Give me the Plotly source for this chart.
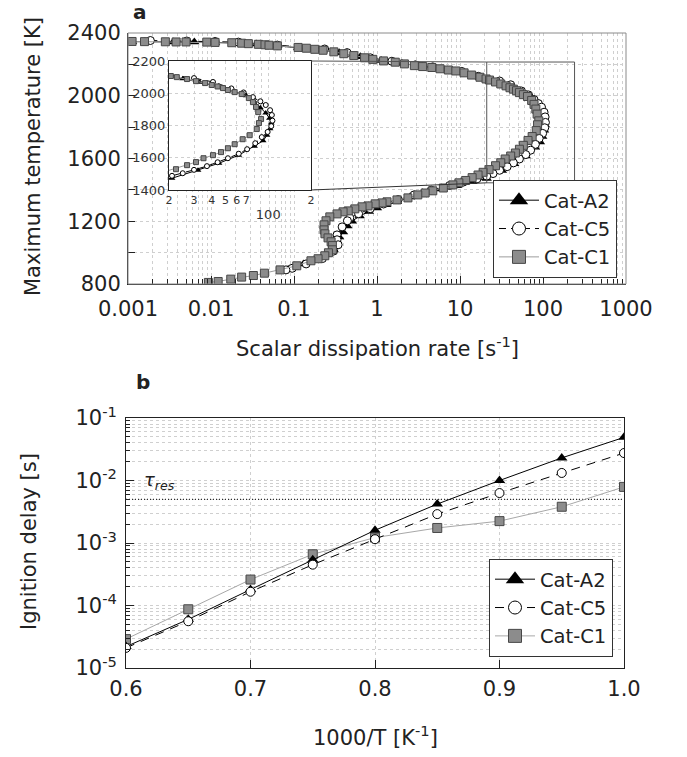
import math
import plotly.graph_objects as go

W, H = 687, 757
FONT = "DejaVu Sans"

# ---------------- Panel a: S-curves (scalar dissipation rate [1/s] vs max temperature [K])
chi_A2 = [0.00112, 0.0016, 0.0035, 0.0063, 0.0112, 0.02, 0.035, 0.063, 0.112, 0.2, 0.35, 0.63,
          1.12, 2.0, 3.5, 6.3, 11.2, 17.8,
          25, 33, 45, 58, 70, 79.6, 88, 96, 102, 105, 103, 98, 92, 80, 62, 45, 32, 21,
          14, 9.2, 6.0, 3.55, 2.5, 1.74, 1.3, 1.0, 0.8, 0.62, 0.5, 0.44, 0.39, 0.35, 0.33,
          0.32, 0.3, 0.25, 0.18, 0.13, 0.1, 0.085, 0.075]
T_A2 = [2345, 2345, 2343, 2342, 2340, 2336, 2330, 2318, 2307, 2293, 2274, 2248,
        2224, 2206, 2187, 2170, 2146, 2116,
        2090, 2068, 2040, 2010, 1985, 1950, 1910, 1877, 1845, 1815, 1780, 1740, 1705, 1672, 1616, 1566, 1523, 1473,
        1452, 1426, 1405, 1381, 1355, 1324, 1305, 1285, 1262, 1234, 1200, 1170, 1132, 1100, 1075,
        1050, 1020, 990, 955, 928, 905, 893, 885]

chi_C5 = [0.00186, 0.0051, 0.0112, 0.0214, 0.063, 0.234, 0.436, 0.83, 1.51, 2.9, 4.7, 10.5, 16.6,
          30, 40.8, 55, 67, 78, 88, 96, 103, 106, 107, 105, 99, 90, 81, 71, 62, 52, 44, 37, 30, 25, 21,
          16, 11, 7.5, 4.5, 2.8, 1.8, 1.2, 0.83, 0.6, 0.47, 0.44, 0.38, 0.33, 0.33, 0.34, 0.3,
          0.22, 0.14, 0.095, 0.08]
T_C5 = [2352, 2349, 2346, 2342, 2323, 2298, 2275, 2242, 2220, 2197, 2184, 2155, 2124,
        2094, 2070, 2030, 2005, 1976, 1950, 1927, 1895, 1865, 1830, 1796, 1760, 1728, 1690, 1653, 1625,
        1597, 1572, 1548, 1525, 1504, 1488,
        1470, 1450, 1428, 1398, 1368, 1338, 1310, 1280, 1248, 1222, 1203, 1164, 1113, 1082, 1050, 1010,
        962, 928, 900, 890]

chi_C1 = [0.00112, 0.00158, 0.00282, 0.0038, 0.0050, 0.0089, 0.0112, 0.0178, 0.0234, 0.0282, 0.0372,
          0.0447, 0.050, 0.063, 0.112, 0.141, 0.178, 0.224, 0.302, 0.398, 0.525, 0.708, 0.891, 1.20,
          1.66, 2.14, 2.82, 3.55, 4.57, 5.75, 7.24, 8.91, 11.2, 13.8, 17.4,
          20.6, 22.7, 26.8, 31.0, 35.9, 40.0, 44, 48, 52, 58, 65, 73, 78, 82, 85, 89, 86, 83, 74, 66,
          58, 52, 46.5, 40.8, 35.0, 31.0, 26.8, 22.4,
          19.0, 16.5, 14.0, 11.7, 9.7, 8.2, 6.3, 4.7, 3.8, 3.1, 2.36, 1.74, 1.32, 1.15, 0.95, 0.78,
          0.66, 0.54, 0.45, 0.39, 0.33, 0.27, 0.243, 0.23, 0.23, 0.236, 0.257, 0.28, 0.29, 0.29,
          0.26, 0.235, 0.195, 0.16, 0.108, 0.068, 0.044, 0.0324, 0.0234, 0.0173, 0.0122, 0.0093]
T_C1 = [2346, 2345, 2344, 2343, 2343, 2342, 2340, 2338, 2335, 2332, 2328,
        2325, 2322, 2318, 2308, 2303, 2296, 2290, 2280, 2268, 2256, 2242, 2232, 2222,
        2214, 2203, 2192, 2186, 2180, 2172, 2164, 2158, 2146, 2132, 2118,
        2107, 2100, 2088, 2075, 2063, 2051, 2042, 2032, 2020, 2007, 1995, 1970, 1945, 1915, 1883, 1840,
        1815, 1778, 1740, 1715, 1684, 1659, 1635, 1616, 1597, 1573, 1554, 1529,
        1512, 1495, 1478, 1460, 1445, 1432, 1412, 1394, 1380, 1368, 1349, 1336, 1324, 1317, 1311, 1298,
        1292, 1279, 1266, 1260, 1247, 1228, 1203, 1177, 1145, 1120, 1094, 1069, 1045, 1018,
        999, 980, 961, 948, 916, 890, 869, 854, 844, 831, 816, 810]

# ---------------- Panel b: ignition delay [s] vs 1000/T
inv_T = [0.6, 0.65, 0.7, 0.75, 0.8, 0.85, 0.9, 0.95, 1.0]
tau_A2 = [2.2e-5, 6.0e-5, 1.8e-4, 5.4e-4, 1.6e-3, 4.2e-3, 1.0e-2, 2.3e-2, 4.9e-2]
tau_C5 = [2.1e-5, 5.6e-5, 1.66e-4, 4.5e-4, 1.15e-3, 2.9e-3, 6.3e-3, 1.32e-2, 2.75e-2]
tau_C1 = [2.9e-5, 8.7e-5, 2.6e-4, 6.6e-4, 1.22e-3, 1.74e-3, 2.24e-3, 3.8e-3, 7.9e-3]
tau_res = 5e-3

names = ["Cat-A2", "Cat-C5", "Cat-C1"]

# tick labels
xa_tickvals = [0.001, 0.01, 0.1, 1, 10, 100, 1000]
xa_ticktext = ["0.001", "0.01", "0.1", "1", "10", "100", "1000"]
ins_tickvals = [20, 30, 40, 50, 60, 70, 100, 200]
ins_ticktext = ["2", "3", "4", "5", "6", "7", "<br><span style='font-size:13px'>100</span>", "2"]
yb_tickvals = [1e-5, 1e-4, 1e-3, 1e-2, 1e-1]
yb_ticktext = ["10<sup>-5</sup>", "10<sup>-4</sup>", "10<sup>-3</sup>", "10<sup>-2</sup>", "10<sup>-1</sup>"]

# zoom box (main-axis data units)
ZOOM_X = [21, 240]
ZOOM_Y = [1445, 2215]
INSET_XR = [20, 200]
INSET_YR = [1400, 2200]
MAIN_XR = [0.001, 1000]
MAIN_YR = [800, 2400]


def xdom(a, b):
    return [a / W, b / W]


def ydom(top, bottom):
    return [1 - bottom / H, 1 - top / H]


dom_xa, dom_ya = xdom(128, 626), ydom(33, 284)
dom_xb, dom_yb = xdom(126, 624), ydom(418, 668)
dom_xi, dom_yi = xdom(169, 311), ydom(61, 190)

GRID = "#cfcfcf"

line_sty = {
    "Cat-A2": dict(color="black", width=1),
    "Cat-C5": dict(color="black", width=1, dash="7px,5px"),
    "Cat-C1": dict(color="#9c9c9c", width=1),
}


def mk(name, size):
    if name == "Cat-A2":
        return dict(symbol="triangle-up", color="black", size=size + 1, line=dict(width=0))
    if name == "Cat-C5":
        return dict(symbol="circle", color="white", size=size, line=dict(color="black", width=1))
    return dict(symbol="square", color="#8c8c8c", size=size, line=dict(color="#474747", width=1))


fig = go.Figure()

series_a = {"Cat-A2": (chi_A2, T_A2), "Cat-C5": (chi_C5, T_C5), "Cat-C1": (chi_C1, T_C1)}
series_b = {"Cat-A2": tau_A2, "Cat-C5": tau_C5, "Cat-C1": tau_C1}

# main panel a
for n in names:
    x, y = series_a[n]
    fig.add_trace(go.Scatter(x=x, y=y, mode="lines+markers", line=line_sty[n], marker=mk(n, 8),
                             showlegend=False, xaxis="x", yaxis="y"))
# inset
for n in names:
    x, y = series_a[n]
    fig.add_trace(go.Scatter(x=x, y=y, mode="lines+markers", line=line_sty[n], marker=mk(n, 5),
                             showlegend=False, xaxis="x3", yaxis="y3"))
# panel b
fig.add_trace(go.Scatter(x=[inv_T[0], inv_T[-1]], y=[tau_res, tau_res], mode="lines",
                         line=dict(color="black", width=1, dash="1px,2px"), showlegend=False,
                         xaxis="x2", yaxis="y2"))
line_b = dict(line_sty)
line_b["Cat-C5"] = dict(color="black", width=1, dash="9px,7px")
line_b["Cat-C1"] = dict(color="#a8a8a8", width=1)
for n in ["Cat-C1", "Cat-A2", "Cat-C5"]:
    fig.add_trace(go.Scatter(x=inv_T, y=series_b[n], mode="lines+markers", line=line_b[n],
                             marker=mk(n, 9), showlegend=False, xaxis="x2", yaxis="y2"))

# legend-only entries
for lg, ax, lsty in [("legend", ("x", "y"), line_sty), ("legend2", ("x2", "y2"), line_b)]:
    for i, n in enumerate(names):
        fig.add_trace(go.Scatter(x=[None], y=[None], mode="lines+markers", name=n, line=lsty[n],
                                 marker=mk(n, 13 if n != "Cat-A2" else 15), legend=lg,
                                 legendrank=i + 1, showlegend=True, xaxis=ax[0], yaxis=ax[1]))

tickfont = dict(family=FONT, size=21, color="#222")

common = dict(automargin=False, zeroline=False, showgrid=True, gridcolor=GRID, griddash="dot")

fig.update_layout(
    template="none",
    width=W, height=H, margin=dict(l=0, r=0, t=0, b=0, pad=0, autoexpand=False),
    paper_bgcolor="white", plot_bgcolor="white",
    font=dict(family=FONT, color="#222"),
    xaxis=dict(domain=dom_xa, type="log", range=[math.log10(v) for v in MAIN_XR], anchor="y",
               tickmode="array", tickvals=xa_tickvals, ticktext=xa_ticktext, tickfont=tickfont,
               ticks="inside", ticklen=8, tickcolor="#222", showline=True, linecolor="#222",
               ticklabelstandoff=6, tickangle=0,
               minor=dict(dtick="D1", ticks="inside", ticklen=5, tickcolor="#222", showgrid=True,
                          gridcolor=GRID, griddash="dot"), **common),
    yaxis=dict(domain=dom_ya, range=MAIN_YR, anchor="x", tick0=800, dtick=400, tickfont=tickfont,
               ticks="inside", ticklen=7, tickcolor="#222", showline=True, linecolor="#222",
               ticklabelstandoff=2,
               minor=dict(dtick=200, ticks="inside", ticklen=7, tickcolor="#222", showgrid=True,
                          gridcolor=GRID, griddash="dot"), **common),
    xaxis2=dict(domain=dom_xb, range=[0.6, 1.0], anchor="y2", dtick=0.1, tickformat=".1f",
                tickfont=tickfont, ticks="inside", ticklen=8, tickcolor="#222", showline=True,
                linecolor="#222", mirror=True, ticklabelstandoff=2, tickangle=0, **common),
    yaxis2=dict(domain=dom_yb, type="log", range=[-5, -1], anchor="x2", tickmode="array",
                tickvals=yb_tickvals, ticktext=yb_ticktext, tickfont=tickfont, ticks="inside",
                ticklen=8, tickcolor="#222", showline=True, linecolor="#222", mirror=True,
                ticklabelstandoff=4,
                minor=dict(dtick="D1", ticks="inside", ticklen=4, tickcolor="#222", showgrid=True,
                           gridcolor=GRID, griddash="dot"), **common),
    xaxis3=dict(domain=dom_xi, type="log", range=[math.log10(v) for v in INSET_XR], anchor="y3",
                tickmode="array", tickvals=ins_tickvals, ticktext=ins_ticktext, tickangle=0,
                tickfont=dict(family=FONT, size=11, color="#333"), ticks="", showline=True,
                linecolor="#222", mirror=True, ticklabelstandoff=0,
                minor=dict(dtick="D1", showgrid=True, gridcolor=GRID, griddash="dot"), **common),
    yaxis3=dict(domain=dom_yi, range=INSET_YR, anchor="x3", dtick=200,
                tickfont=dict(family=FONT, size=13, color="#333"), ticks="", showline=True,
                linecolor="#222", mirror=True, ticklabelstandoff=0, **common),
    legend=dict(x=617 / W, xanchor="right", y=1 - 278 / H, yanchor="bottom",
                bgcolor="white", bordercolor="#333", borderwidth=1, itemwidth=40,
                font=dict(family=FONT, size=19.5, color="#222"), tracegroupgap=0),
    legend2=dict(x=613 / W, xanchor="right", y=1 - 657 / H, yanchor="bottom",
                 bgcolor="white", bordercolor="#333", borderwidth=1, itemwidth=40,
                 font=dict(family=FONT, size=19.5, color="#222"), tracegroupgap=0),
)


# helper: map inset corner (paper) to main-axis data coordinates
def paper_to_main_x(px):
    lo, hi = math.log10(MAIN_XR[0]), math.log10(MAIN_XR[1])
    return 10 ** (lo + (px - dom_xa[0]) / (dom_xa[1] - dom_xa[0]) * (hi - lo))


def paper_to_main_y(py):
    return MAIN_YR[0] + (py - dom_ya[0]) / (dom_ya[1] - dom_ya[0]) * (MAIN_YR[1] - MAIN_YR[0])


ix = paper_to_main_x(dom_xi[1])
iy_top = paper_to_main_y(dom_yi[1])
iy_bot = paper_to_main_y(dom_yi[0])

shapes = [
    dict(type="rect", xref="x domain", yref="y domain", x0=0, x1=1, y0=0, y1=1,
         line=dict(color="#8a8a8a", width=1), layer="above"),
    dict(type="rect", xref="x", yref="y", x0=ZOOM_X[0], x1=ZOOM_X[1], y0=ZOOM_Y[0], y1=ZOOM_Y[1],
         line=dict(color="#555", width=1), layer="above"),
    dict(type="line", xref="x", yref="y", x0=ix, y0=iy_top, x1=ZOOM_X[0], y1=ZOOM_Y[1],
         line=dict(color="#555", width=1)),
    dict(type="line", xref="x", yref="y", x0=ix, y0=iy_bot, x1=ZOOM_X[0], y1=ZOOM_Y[0],
         line=dict(color="#333", width=1)),
]
fig.update_layout(shapes=shapes)


def label(text, px, py, size=21, angle=0):
    return dict(text=text, x=px / W, y=1 - py / H, xref="paper", yref="paper", showarrow=False,
                xanchor="center", yanchor="middle", textangle=angle,
                font=dict(family=FONT, size=size, color="#222"))


ann = [
    label("<b>a</b>", 140, 12, size=20),
    label("<b>b</b>", 143, 382, size=20),
    label("Maximum temperature [K]", 33, 157, angle=-90),
    label("Scalar dissipation rate [s<sup>-1</sup>]", 377, 347),
    label("Ignition delay [s]", 29, 542, angle=-90),
    label("1000/T [K<sup>-1</sup>]", 375, 736),
    dict(text="<i>τ<sub>res</sub></i>", x=0.627, y=math.log10(tau_res) + 0.3, xref="x2", yref="y2",
         showarrow=False, xanchor="center", yanchor="middle",
         font=dict(family=FONT, size=18, color="#222")),
]
fig.update_layout(annotations=ann)

fig.write_html("out.html")
